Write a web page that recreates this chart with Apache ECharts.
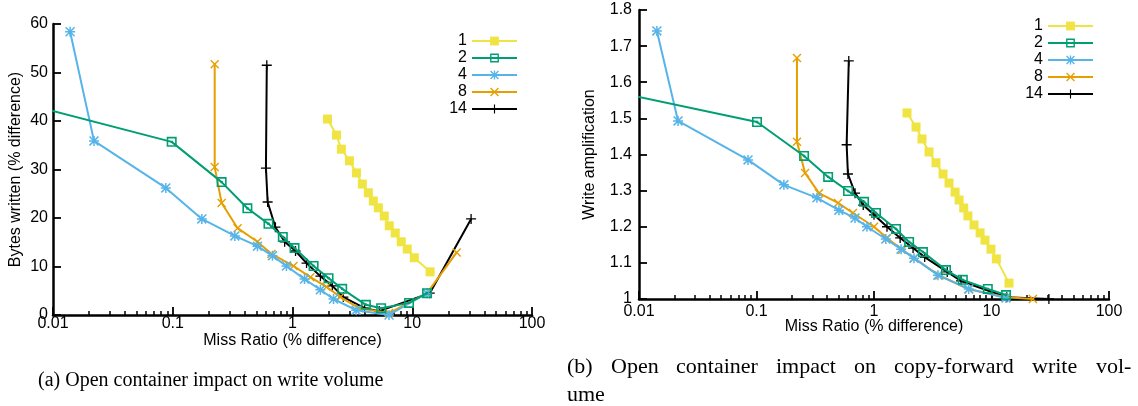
<!DOCTYPE html>
<html>
<head>
<meta charset="utf-8">
<script src="https://cdn.jsdelivr.net/npm/echarts@6/dist/echarts.min.js"></script>
<style>
  html, body { margin: 0; padding: 0; background: #fff; }
  #chart { width: 1138px; height: 406px; }
</style>
</head>
<body>
<div id="chart"></div>
<script>
// series names (open containers)
var seriesNames = ['1', '2', '4', '8', '14'];
var seriesColors = ['#F0E442', '#009E73', '#56B4E9', '#E69F00', '#000000'];

// (a) bytes written, [miss ratio %, bytes written %]
var vol1 = [[1.96, 40.4], [2.33, 37.1], [2.56, 34.2], [2.99, 31.8], [3.42, 29.3], [3.83, 27.0], [4.30, 25.2], [4.73, 23.5],
  [5.21, 22.1], [5.84, 20.4], [6.43, 18.4], [7.21, 16.9], [8.09, 15.1], [9.08, 13.6], [10.4, 11.8], [14.1, 8.9]];
var vol2 = [[0.005, 44.0], [0.098, 35.7], [0.256, 27.4], [0.42, 22.0], [0.63, 18.8], [0.83, 16.1], [1.04, 13.8], [1.5, 10.1],
  [2.0, 7.6], [2.6, 5.4], [4.1, 2.1], [5.5, 1.4], [9.4, 2.5], [13.3, 4.5]];
var vol4 = [[0.0139, 58.4], [0.022, 35.9], [0.0875, 26.2], [0.175, 19.8], [0.33, 16.3], [0.51, 14.2], [0.68, 12.2], [0.89, 10.1],
  [1.26, 7.4], [1.71, 5.2], [2.2, 3.3], [3.4, 1.0], [6.4, 0.0], [13.3, 4.5]];
var vol8 = [[0.224, 51.7], [0.224, 30.5], [0.256, 23.1], [0.348, 17.9], [0.51, 15.1], [0.668, 12.6], [1.02, 10.1], [1.41, 7.8],
  [1.92, 5.8], [2.51, 3.7], [3.6, 1.4], [6.4, 0.4], [13.3, 4.5], [23.5, 12.9]];
var vol14 = [[0.61, 51.5], [0.6, 30.3], [0.62, 23.3], [0.72, 18.1], [0.86, 15.1], [1.06, 13.2], [1.31, 10.7], [1.71, 8.0],
  [2.15, 6.0], [2.66, 3.7], [4.0, 1.4], [5.3, 0.8], [14.0, 4.5], [31, 19.8]];

// (b) write amplification, [miss ratio %, amplification]
var amp1 = [[1.91, 1.515], [2.28, 1.476], [2.56, 1.443], [2.94, 1.407], [3.37, 1.377], [3.87, 1.346], [4.35, 1.321], [4.9, 1.296],
  [5.3, 1.274], [5.8, 1.252], [6.3, 1.230], [7.1, 1.205], [8.0, 1.183], [8.8, 1.163], [9.9, 1.138], [11.0, 1.111], [14.1, 1.044]];
var amp2 = [[0.005, 1.580], [0.101, 1.490], [0.254, 1.396], [0.407, 1.338], [0.601, 1.299], [0.823, 1.269], [1.04, 1.238],
  [1.54, 1.194], [1.99, 1.158], [2.61, 1.13], [4.1, 1.080], [5.7, 1.053], [9.3, 1.028], [13.3, 1.011]];
var amp4 = [[0.0142, 1.742], [0.0215, 1.493], [0.0847, 1.385], [0.171, 1.316], [0.327, 1.280], [0.503, 1.246], [0.689, 1.224],
  [0.871, 1.2], [1.26, 1.166], [1.70, 1.138], [2.19, 1.113], [3.5, 1.066], [6.4, 1.028], [13.3, 1.003]];
var amp8 = [[0.221, 1.667], [0.221, 1.435], [0.259, 1.349], [0.34, 1.293], [0.494, 1.266], [0.662, 1.238], [1.0, 1.2],
  [1.29, 1.169], [1.74, 1.136], [2.19, 1.113], [3.6, 1.065], [6.4, 1.027], [13.3, 1.005], [22.5, 1.0]];
var amp14 = [[0.61, 1.659], [0.585, 1.427], [0.6, 1.346], [0.69, 1.293], [0.81, 1.26], [1.0, 1.233], [1.29, 1.2],
  [1.67, 1.169], [2.15, 1.141], [2.7, 1.116], [4.2, 1.075], [5.5, 1.05], [13.5, 1.005], [30.8, 1.0]];

var volTicks = [0, 10, 20, 30, 40, 50, 60];
var ampTicks = [1, 1.1, 1.2, 1.3, 1.4, 1.5, 1.6, 1.7, 1.8];

// gnuplot style point shapes
var symbols = [
  'rect',
  'path://M0,0H10V10H0Z M1.6,1.6V8.4H8.4V1.6Z M3.8,3.8H6.2V6.2H3.8Z',
  'path://M0,4.25H10V5.75H0Z M4.25,0H5.75V10H4.25Z M1.1,0L10,8.9L8.9,10L0,1.1Z M8.9,0L10,1.1L1.1,10L0,8.9Z',
  'path://M1.1,0L10,8.9L8.9,10L0,1.1Z M8.9,0L10,1.1L1.1,10L0,8.9Z',
  'path://M0,4.35H10V5.65H0Z M4.35,0H5.65V10H4.35Z'
];
var symbolSizes = [9, 10, 10, 9, 10];

// minor tick positions (log10 of 2..9 in each decade) for a helper axis
var minorTicks = [];
[-2, -1, 0, 1].forEach(function (e) {
  for (var k = 2; k < 10; k++) minorTicks.push(e + Math.log10(k));
});

var font = '"Liberation Sans", Arial, sans-serif';

function xAxes(grid, labelMargin) {
  return [{
    type: 'log', logBase: 10, gridIndex: grid, min: 0.01, max: 100, position: 'bottom',
    name: 'Miss Ratio (% difference)', nameLocation: 'middle', nameGap: grid === 0 ? 18 : 20,
    nameMoveOverlap: false,
    nameTextStyle: { fontFamily: font, fontSize: 16, color: '#000' },
    axisLine: { onZero: false, lineStyle: { color: '#000', width: 2.5 } },
    axisTick: { inside: true, length: 8, lineStyle: { color: '#000', width: 1.8 } },
    axisLabel: { fontFamily: font, fontSize: 16, color: '#000', margin: labelMargin },
    splitLine: { show: false }
  }, {
    // helper axis only used to draw the short minor ticks
    type: 'value', gridIndex: grid, min: -2, max: 2, position: 'bottom',
    axisLine: { show: true, onZero: false, lineStyle: { color: 'rgba(0,0,0,0)' } },
    axisTick: { show: true, inside: true, length: 4, customValues: minorTicks, lineStyle: { color: '#000', width: 1.5 } },
    axisLabel: { show: false },
    splitLine: { show: false }
  }];
}

function yAxis(grid, name, ticks, gap, labelMargin) {
  return {
    type: 'value', gridIndex: grid, min: ticks[0], max: ticks[ticks.length - 1],
    interval: +(ticks[1] - ticks[0]).toFixed(2),
    name: name, nameLocation: 'middle', nameGap: gap, nameMoveOverlap: false,
    nameTextStyle: { fontFamily: font, fontSize: 16, color: '#000' },
    axisLine: { show: true, onZero: false, lineStyle: { color: '#000', width: 2.5 } },
    axisTick: { show: true, inside: true, length: 8, lineStyle: { color: '#000', width: 1.8 } },
    axisLabel: { fontFamily: font, fontSize: 16, color: '#000', margin: labelMargin },
    splitLine: { show: false }
  };
}

function makeSeries(list, xIdx, yIdx) {
  return list.map(function (d, i) {
    return {
      name: seriesNames[i], type: 'line', data: d, xAxisIndex: xIdx, yAxisIndex: yIdx,
      symbol: symbols[i], symbolSize: symbolSizes[i], showSymbol: true, clip: true,
      lineStyle: { width: 2, color: seriesColors[i] },
      itemStyle: { color: seriesColors[i], borderWidth: 0 },
      z: 10 - i
    };
  });
}

function legend(left, top) {
  return {
    data: seriesNames, orient: 'vertical', left: left, top: top, align: 'right',
    itemWidth: 45, itemHeight: 11, itemGap: 1, selectedMode: false,
    textStyle: { fontFamily: font, fontSize: 16, color: '#000', width: 20, align: 'right', lineHeight: 16 }
  };
}

var capFamily = '"Liberation Serif", "DejaVu Serif", serif';
var capFontA = '20px ' + capFamily;
var capFontB = '22px ' + capFamily;

// justified first line of caption (b), like the LaTeX original
function justified(words, x0, x1, top) {
  var ctx = document.createElement('canvas').getContext('2d');
  ctx.font = capFontB;
  var widths = words.map(function (w) { return ctx.measureText(w).width; });
  var total = widths.reduce(function (a, b) { return a + b; }, 0);
  var gap = (x1 - x0 - total) / (words.length - 1);
  var x = x0, out = [];
  words.forEach(function (w, i) {
    out.push({ type: 'text', left: Math.round(x), top: top, style: { text: w, font: capFontB, fill: '#000' } });
    x += widths[i] + gap;
  });
  return out;
}

var chart = echarts.init(document.getElementById('chart'));
chart.setOption({
  animation: false,
  backgroundColor: '#fff',
  grid: [
    { left: 53, top: 24, width: 479, height: 291 },
    { left: 639, top: 10, width: 470, height: 289 }
  ],
  xAxis: xAxes(0, 1).concat(xAxes(1, 5)),
  yAxis: [
    yAxis(0, 'Bytes written (% difference)', volTicks, 29, 5),
    yAxis(1, 'Write amplification', ampTicks, 41, 7)
  ],
  legend: [legend(442, 28), legend(1018, 13)],
  series: makeSeries([vol1, vol2, vol4, vol8, vol14], 0, 0)
    .concat(makeSeries([amp1, amp2, amp4, amp8, amp14], 2, 1)),
  graphic: [
    { type: 'text', left: 38, top: 371, style: { text: '(a) Open container impact on write volume', font: capFontA, fill: '#000' } },
    { type: 'text', left: 567, top: 384, style: { text: 'ume', font: capFontB, fill: '#000' } }
  ].concat(justified(['(b)', 'Open', 'container', 'impact', 'on', 'copy-forward', 'write', 'vol-'], 567, 1131, 356))
});
</script>
</body>
</html>
